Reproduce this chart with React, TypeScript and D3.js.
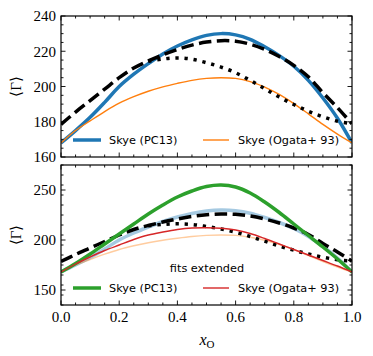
import React from "react";
import * as d3 from "d3";

const xGrid = [0, 0.05, 0.1, 0.15, 0.2, 0.25, 0.3, 0.35, 0.4, 0.45, 0.5, 0.55, 0.6, 0.65, 0.7, 0.75, 0.8, 0.85, 0.9, 0.95, 1.0];
const skyePC13 = [168, 175, 182.5, 191, 200, 207, 213, 218.5, 223, 226.5, 229, 230, 229.3, 226.8, 222.5, 217.5, 211.5, 203.5, 193.5, 182, 168];
const skyeOgata = [168, 175, 180.5, 185.8, 190.5, 194.2, 197.3, 199.8, 201.8, 203.5, 204.6, 205, 204.6, 202.8, 199.7, 195.5, 190.3, 184.5, 178.5, 173, 168];
const dashedRef = [178.5, 185.5, 192, 198.5, 205, 210.5, 214.5, 218, 221, 223.5, 225.2, 226, 225.7, 224, 221, 217, 212, 205.5, 196.5, 188, 178.8];
const dottedX = [0.3, 0.35, 0.4, 0.45, 0.5, 0.55, 0.6, 0.65, 0.7, 0.75, 0.8, 0.85, 0.9, 0.95, 1.0];
const dottedRef = [214.3, 215.6, 216.2, 215.5, 213.5, 211, 207.8, 203.5, 198.8, 194, 189.8, 186, 182.8, 180.3, 178.8];
const extPC13 = [168, 176.5, 186, 196, 206, 216, 226, 235, 243, 249, 253.5, 255, 253, 247, 238, 227.5, 216, 204.5, 193, 181, 168];
const extOgata = [168, 176, 183, 189.5, 195, 200.5, 205, 208, 210.5, 212, 212.3, 211.8, 210, 206.5, 201.5, 196, 190.5, 185, 179.5, 174, 168];

const xTicks = [0, 0.2, 0.4, 0.6, 0.8, 1.0];
const topYTicks = [160, 180, 200, 220, 240];
const botYTicks = [150, 200, 250];
const legendLabels = ["Skye (PC13)", "Skye (Ogata+ 93)"];
const legendTitle = "fits extended";

const W = 373, H = 356;
const L = 61, R = 352;
const topP = { y0: 16, y1: 157, dom: [160, 240] as [number, number], minor: 5 };
const botP = { y0: 165, y1: 305, dom: [135, 275] as [number, number], minor: 10 };

const x = d3.scaleLinear().domain([0, 1]).range([L, R]);
const yTop = d3.scaleLinear().domain(topP.dom).range([topP.y1, topP.y0]);
const yBot = d3.scaleLinear().domain(botP.dom).range([botP.y1, botP.y0]);

const SANS = "'DejaVu Sans', sans-serif";
const SERIF = "'Liberation Serif', serif";

function mkLine(y: d3.ScaleLinear<number, number>, xs: number[], ys: number[]) {
  const g = d3.line<number>().x((_, i) => x(xs[i])).y((v) => y(v)).curve(d3.curveCatmullRom.alpha(0.5));
  return g(ys) || "";
}

const BLUE = "#1f77b4", ORANGE = "#ff7f0e", GREEN = "#2ca02c", RED = "#d62728";
const DASH = "12.5 5.5";
const DOT = "3.3 5.8";

function Ticks({ y, p, majors }: { y: d3.ScaleLinear<number, number>; p: any; majors: number[] }) {
  const els: any[] = [];
  const MJ = 4.5, MN = 2.5;
  const xMinor = d3.range(0, 1.0001, 0.05).filter((v) => Math.abs(v * 5 - Math.round(v * 5)) > 1e-6);
  xTicks.forEach((v, i) => {
    els.push(<line key={"xb" + i} x1={x(v)} x2={x(v)} y1={p.y1} y2={p.y1 - MJ} />);
    els.push(<line key={"xt" + i} x1={x(v)} x2={x(v)} y1={p.y0} y2={p.y0 + MJ} />);
  });
  xMinor.forEach((v, i) => {
    els.push(<line key={"xbm" + i} x1={x(v)} x2={x(v)} y1={p.y1} y2={p.y1 - MN} />);
    els.push(<line key={"xtm" + i} x1={x(v)} x2={x(v)} y1={p.y0} y2={p.y0 + MN} />);
  });
  const step = majors[1] - majors[0];
  const yMinor = d3.range(p.dom[0], p.dom[1] + 0.001, p.minor).filter((v) => Math.abs(v / step - Math.round(v / step)) > 1e-6);
  majors.forEach((v, i) => {
    els.push(<line key={"yl" + i} x1={L} x2={L + MJ} y1={y(v)} y2={y(v)} />);
    els.push(<line key={"yr" + i} x1={R} x2={R - MJ} y1={y(v)} y2={y(v)} />);
  });
  yMinor.forEach((v, i) => {
    els.push(<line key={"ylm" + i} x1={L} x2={L + MN} y1={y(v)} y2={y(v)} />);
    els.push(<line key={"yrm" + i} x1={R} x2={R - MN} y1={y(v)} y2={y(v)} />);
  });
  return <g stroke="#000" strokeWidth={0.9}>{els}</g>;
}

function YLabels({ y, majors }: { y: d3.ScaleLinear<number, number>; majors: number[] }) {
  return (
    <g style={{ fontFamily: SERIF, fontSize: 15 }} textAnchor="end">
      {majors.map((v) => (
        <text key={v} x={L - 5} y={y(v)} dy="0.35em">{v}</text>
      ))}
    </g>
  );
}

function Legend({ y0, c1, c2, w1, w2 }: { y0: number; c1: string; c2: string; w1: number; w2: number }) {
  return (
    <g style={{ fontFamily: SANS, fontSize: 11.3 }}>
      <line x1={73} x2={101} y1={y0} y2={y0} stroke={c1} strokeWidth={w1} />
      <text x={109} y={y0} dy="0.36em">{legendLabels[0]}</text>
      <line x1={203} x2={229} y1={y0} y2={y0} stroke={c2} strokeWidth={w2} />
      <text x={238} y={y0} dy="0.36em">{legendLabels[1]}</text>
    </g>
  );
}

export default function App() {
  const thick = 3.5, thin = 1.4;
  return (
    <svg width={W} height={H} style={{ position: "absolute", left: 0, top: 0, background: "#fff" }}>
      <defs>
        <clipPath id="cTop"><rect x={L} y={topP.y0} width={R - L} height={topP.y1 - topP.y0} /></clipPath>
        <clipPath id="cBot"><rect x={L} y={botP.y0} width={R - L} height={botP.y1 - botP.y0} /></clipPath>
      </defs>
      <rect width={W} height={H} fill="#fff" />
      {/* top panel */}
      <g clipPath="url(#cTop)" fill="none">
        <path d={mkLine(yTop, xGrid, skyePC13)} stroke={BLUE} strokeWidth={thick} />
        <path d={mkLine(yTop, xGrid, skyeOgata)} stroke={ORANGE} strokeWidth={thin} />
        <path d={mkLine(yTop, xGrid, dashedRef)} stroke="#000" strokeWidth={thick} strokeDasharray={DASH} />
        <path d={mkLine(yTop, dottedX, dottedRef)} stroke="#000" strokeWidth={thick} strokeDasharray={DOT} />
      </g>
      <Legend y0={140} c1={BLUE} c2={ORANGE} w1={thick} w2={thin} />
      <Ticks y={yTop} p={topP} majors={topYTicks} />
      <rect x={L} y={topP.y0} width={R - L} height={topP.y1 - topP.y0} fill="none" stroke="#000" strokeWidth={1.2} />
      <YLabels y={yTop} majors={topYTicks} />
      <text transform={`translate(16,${(topP.y0 + topP.y1) / 2}) rotate(-90)`} textAnchor="middle" dy="0.35em" style={{ fontFamily: SERIF, fontSize: 15 }}>⟨Γ⟩</text>

      {/* bottom panel */}
      <g clipPath="url(#cBot)" fill="none">
        <path d={mkLine(yBot, xGrid, skyePC13)} stroke={BLUE} strokeOpacity={0.4} strokeWidth={thick} />
        <path d={mkLine(yBot, xGrid, skyeOgata)} stroke={ORANGE} strokeOpacity={0.4} strokeWidth={thin} />
        <path d={mkLine(yBot, xGrid, dashedRef)} stroke="#000" strokeWidth={thick} strokeDasharray={DASH} />
        <path d={mkLine(yBot, dottedX, dottedRef)} stroke="#000" strokeWidth={thick} strokeDasharray={DOT} />
        <path d={mkLine(yBot, xGrid, extPC13)} stroke={GREEN} strokeWidth={thick} />
        <path d={mkLine(yBot, xGrid, extOgata)} stroke={RED} strokeWidth={thin} />
      </g>
      <text x={207} y={268} dy="0.36em" textAnchor="middle" style={{ fontFamily: SANS, fontSize: 11.3 }}>{legendTitle}</text>
      <Legend y0={288} c1={GREEN} c2={RED} w1={thick} w2={thin} />
      <Ticks y={yBot} p={botP} majors={botYTicks} />
      <rect x={L} y={botP.y0} width={R - L} height={botP.y1 - botP.y0} fill="none" stroke="#000" strokeWidth={1.2} />
      <YLabels y={yBot} majors={botYTicks} />
      <text transform={`translate(16,${(botP.y0 + botP.y1) / 2}) rotate(-90)`} textAnchor="middle" dy="0.35em" style={{ fontFamily: SERIF, fontSize: 15 }}>⟨Γ⟩</text>

      <g style={{ fontFamily: SERIF, fontSize: 15 }} textAnchor="middle">
        {xTicks.map((v) => (
          <text key={v} x={x(v)} y={317} dy="0.35em">{v.toFixed(1)}</text>
        ))}
      </g>
      <text x={207} y={345} textAnchor="middle" style={{ fontFamily: SERIF, fontSize: 16 }}>
        <tspan fontStyle="italic">x</tspan>
        <tspan fontSize={11} dy={3}>O</tspan>
      </text>
    </svg>
  );
}
